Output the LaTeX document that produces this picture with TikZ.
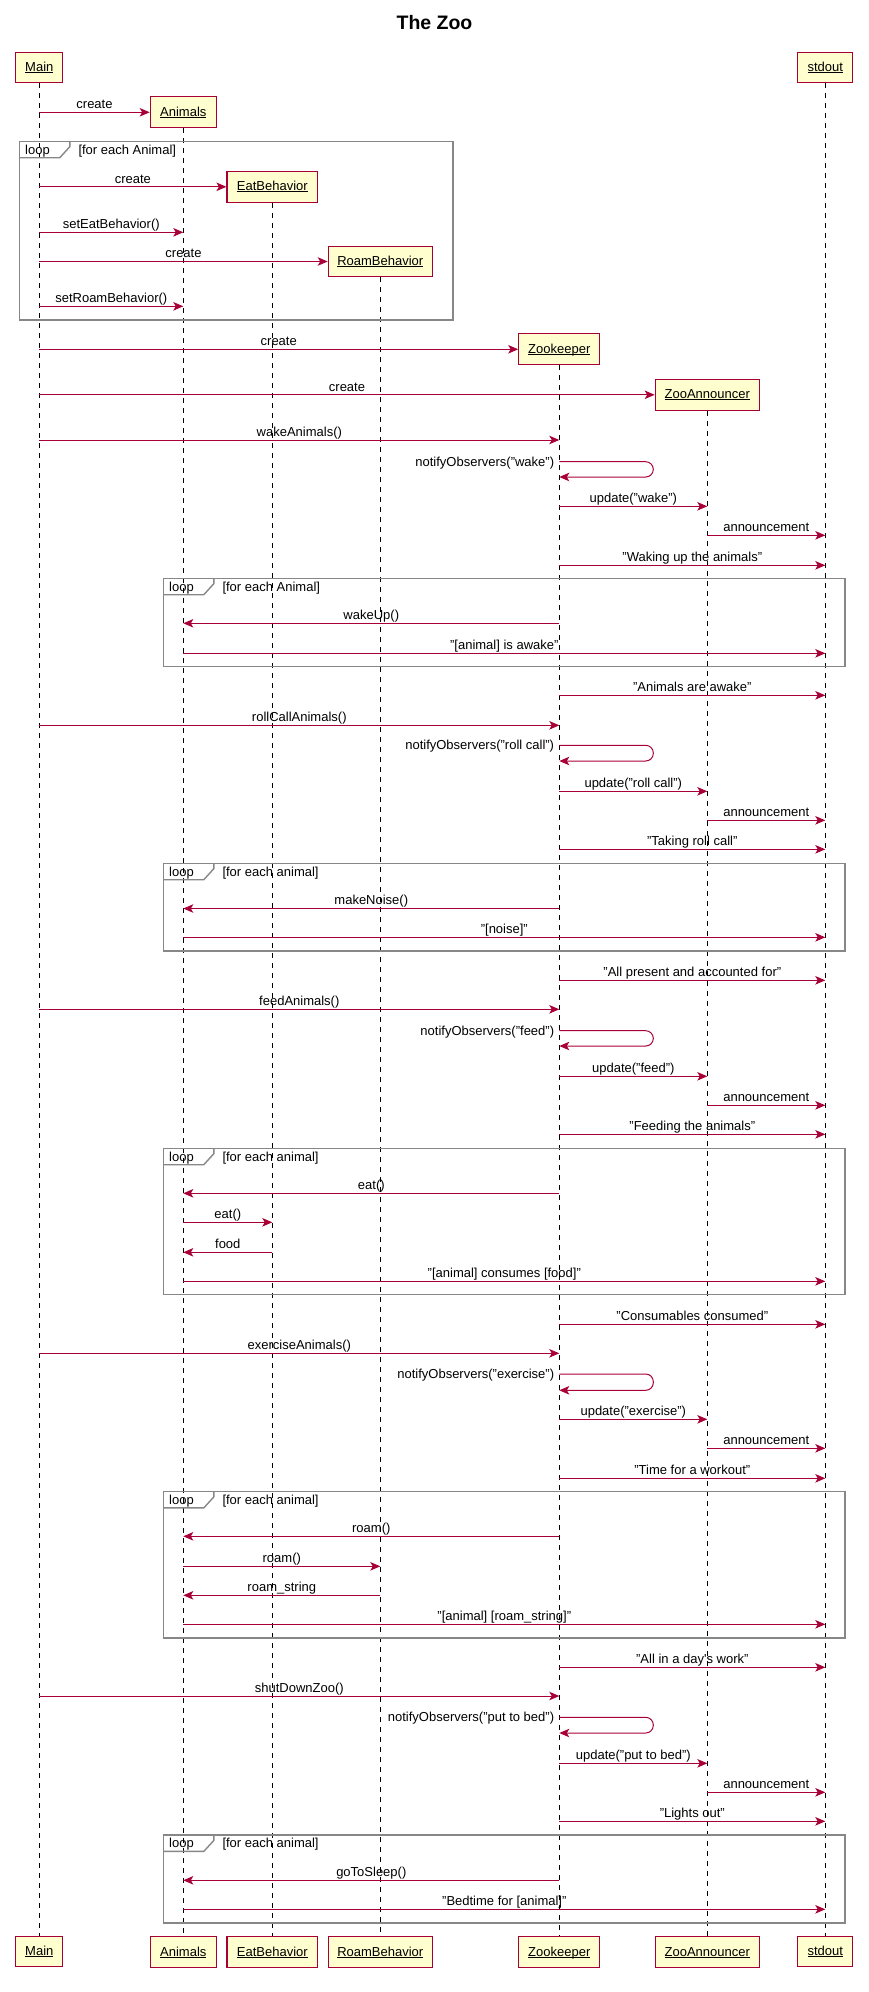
\documentclass[tikz,border=0pt]{standalone}
\usepackage{fontspec}
\setmainfont{Liberation Sans}
\usetikzlibrary{arrows.meta}
\definecolor{pborder}{HTML}{A80036}
\definecolor{pfill}{HTML}{FEFECE}
\definecolor{framegray}{HTML}{878787}
\newcommand\ulname[1]{\setbox0\hbox{#1}\rlap{\rule[-1.6pt]{\wd0}{0.9pt}}\box0}
\newcommand\msg[4]{\draw[msgline] (#1 |- 0,#3) -- node[lbl]{#4} (#2 |- 0,#3);}
\newcommand\selfmsg[3]{%
  \draw[msgline, rounded corners=7.6pt] (zkT |- 0,#1) -- ++(94,0) -- ++(0,#2-#1) -- (zkT |- 0,#2);
  \node[txt, anchor=base east] at (554.3,#1+4.3) {#3};}
\newcommand\loopfr[5]{%
  \draw[frame] (#1,#2) rectangle (#3,#4);
  \draw[frame, line width=1.4pt] (#1,#2+16.4) -- (#1+40.5,#2+16.4) -- (#1+50.5,#2+5.4) -- (#1+50.5,#2);
  \node[txt, anchor=base west] at (#1+5.7,#2+12.7) {loop};
  \node[txt, anchor=base west] at (#1+59,#2+12.7) {#5};}
\begin{document}
\begin{tikzpicture}[x=1pt,y=-1pt,
  part/.style={draw=pborder, fill=pfill, line width=1.2pt, inner sep=0pt,
    text height=9.6pt, text depth=2pt, font=\fontsize{13}{15}\selectfont},
  life/.style={draw=black, line width=1pt, dash pattern=on 5pt off 5pt},
  msgline/.style={draw=pborder, line width=1pt, -{Stealth[length=10pt,width=8.5pt,inset=2.5pt]}},
  txt/.style={font=\fontsize{13}{15}\selectfont, inner sep=0pt},
  lbl/.style={txt, anchor=base, yshift=3.8pt},
  frame/.style={draw=framegray, line width=1.6pt},
]
\fill[white] (0,0) rectangle (869,1992);
\useasboundingbox (0,0) rectangle (869,1992);

\node[font=\fontsize{19.5}{22}\selectfont\bfseries, anchor=base] (title) at (434.5,29.3) {The Zoo};

% top participants
\node[part, minimum width=47pt, minimum height=30.3pt] (mainT) at (39.3,67.3) {\ulname{Main}};
\node[part, minimum width=66pt, minimum height=31pt] (animT) at (183.3,112.3) {\ulname{Animals}};
\node[part, minimum width=90.5pt, minimum height=31pt] (eatT) at (272.3,186.8) {\ulname{EatBehavior}};
\node[part, minimum width=104pt, minimum height=30.6pt] (roamT) at (380.3,261.5) {\ulname{RoamBehavior}};
\node[part, minimum width=81pt, minimum height=31pt] (zkT) at (559.3,349.3) {\ulname{Zookeeper}};
\node[part, minimum width=104pt, minimum height=31pt] (zaT) at (707.3,394.8) {\ulname{ZooAnnouncer}};
\node[part, minimum width=55pt, minimum height=30.3pt] (stdT) at (825.3,67.3) {\ulname{stdout}};
% bottom participants
\node[part, minimum width=47pt, minimum height=30pt] (mainB) at (39.3,1951.8) {\ulname{Main}};
\node[part, minimum width=66pt, minimum height=31pt] (animB) at (183.3,1952.3) {\ulname{Animals}};
\node[part, minimum width=90.5pt, minimum height=31pt] (eatB) at (272.3,1952.3) {\ulname{EatBehavior}};
\node[part, minimum width=104pt, minimum height=31pt] (roamB) at (380.3,1952.3) {\ulname{RoamBehavior}};
\node[part, minimum width=81pt, minimum height=31pt] (zkB) at (559.3,1952.3) {\ulname{Zookeeper}};
\node[part, minimum width=104pt, minimum height=31pt] (zaB) at (707.3,1952.3) {\ulname{ZooAnnouncer}};
\node[part, minimum width=55pt, minimum height=30pt] (stdB) at (825.3,1951.8) {\ulname{stdout}};

% lifelines
\draw[life] (mainT.south) -- (mainB.north);
\draw[life] (animT.south) -- (animB.north);
\draw[life] (eatT.south) -- (eatB.north);
\draw[life] (roamT.south) -- (roamB.north);
\draw[life] (zkT.south) -- (zkB.north);
\draw[life] (zaT.south) -- (zaB.north);
\draw[life] (stdT.south) -- (stdB.north);

% loop frames
\loopfr{19.3}{141.3}{453}{320}{[for each Animal]}
\loopfr{163.3}{578.3}{845}{666.3}{[for each Animal]}
\loopfr{163.3}{863.3}{845}{951}{[for each animal]}
\loopfr{163.3}{1148.3}{845}{1294.3}{[for each animal]}
\loopfr{163.3}{1491.5}{845}{1638}{[for each animal]}
\loopfr{163.3}{1835}{845}{1923}{[for each animal]}

% creation
\draw[msgline] (mainT |- animT) -- node[lbl]{create} (animT.west);
\draw[msgline] (mainT |- eatT) -- node[lbl]{create} (eatT.west);
\msg{mainT}{animT}{232.3}{setEatBehavior()}
\draw[msgline] (mainT |- roamT) -- node[lbl]{create} (roamT.west);
\msg{mainT}{animT}{306.3}{setRoamBehavior()}
\draw[msgline] (mainT |- zkT) -- node[lbl]{create} (zkT.west);
\draw[msgline] (mainT |- zaT) -- node[lbl]{create} (zaT.west);

% wake
\msg{mainT}{zkT}{440}{wakeAnimals()}
\selfmsg{461.7}{477}{notifyObservers("wake")}
\msg{zkT}{zaT}{506.3}{update("wake")}
\msg{zaT}{stdT}{535.3}{announcement}
\msg{zkT}{stdT}{565.3}{"Waking up the animals"}
\msg{zkT}{animT}{623.3}{wakeUp()}
\msg{animT}{stdT}{653.3}{"[animal] is awake"}
\msg{zkT}{stdT}{695.3}{"Animals are awake"}

% roll call
\msg{mainT}{zkT}{725.3}{rollCallAnimals()}
\selfmsg{745.3}{761}{notifyObservers("roll call")}
\msg{zkT}{zaT}{791.3}{update("roll call")}
\msg{zaT}{stdT}{820.3}{announcement}
\msg{zkT}{stdT}{849.3}{"Taking roll call"}
\msg{zkT}{animT}{908.5}{makeNoise()}
\msg{animT}{stdT}{937.3}{"[noise]"}
\msg{zkT}{stdT}{980.3}{"All present and accounted for"}

% feed
\msg{mainT}{zkT}{1009.3}{feedAnimals()}
\selfmsg{1030.7}{1046}{notifyObservers("feed")}
\msg{zkT}{zaT}{1076.3}{update("feed")}
\msg{zaT}{stdT}{1105.3}{announcement}
\msg{zkT}{stdT}{1134.3}{"Feeding the animals"}
\msg{zkT}{animT}{1193.3}{eat()}
\msg{animT}{eatT}{1222.3}{eat()}
\msg{eatT}{animT}{1252.3}{food}
\msg{animT}{stdT}{1281.3}{"[animal] consumes [food]"}
\msg{zkT}{stdT}{1324.3}{"Consumables consumed"}

% exercise
\msg{mainT}{zkT}{1353.3}{exerciseAnimals()}
\selfmsg{1374}{1390.3}{notifyObservers("exercise")}
\msg{zkT}{zaT}{1419.3}{update("exercise")}
\msg{zaT}{stdT}{1448.3}{announcement}
\msg{zkT}{stdT}{1478.3}{"Time for a workout"}
\msg{zkT}{animT}{1536.3}{roam()}
\msg{animT}{roamT}{1566.3}{roam()}
\msg{roamT}{animT}{1595.3}{roam\_string}
\msg{animT}{stdT}{1624.3}{"[animal] [roam\_string]"}
\msg{zkT}{stdT}{1667.3}{"All in a day\textquotesingle s work"}

% shut down
\msg{mainT}{zkT}{1696}{shutDownZoo()}
\selfmsg{1717.3}{1733}{notifyObservers("put to bed")}
\msg{zkT}{zaT}{1763.3}{update("put to bed")}
\msg{zaT}{stdT}{1792.3}{announcement}
\msg{zkT}{stdT}{1821.3}{"Lights out"}
\msg{zkT}{animT}{1880.3}{goToSleep()}
\msg{animT}{stdT}{1909.3}{"Bedtime for [animal]"}
\end{tikzpicture}
\end{document}
